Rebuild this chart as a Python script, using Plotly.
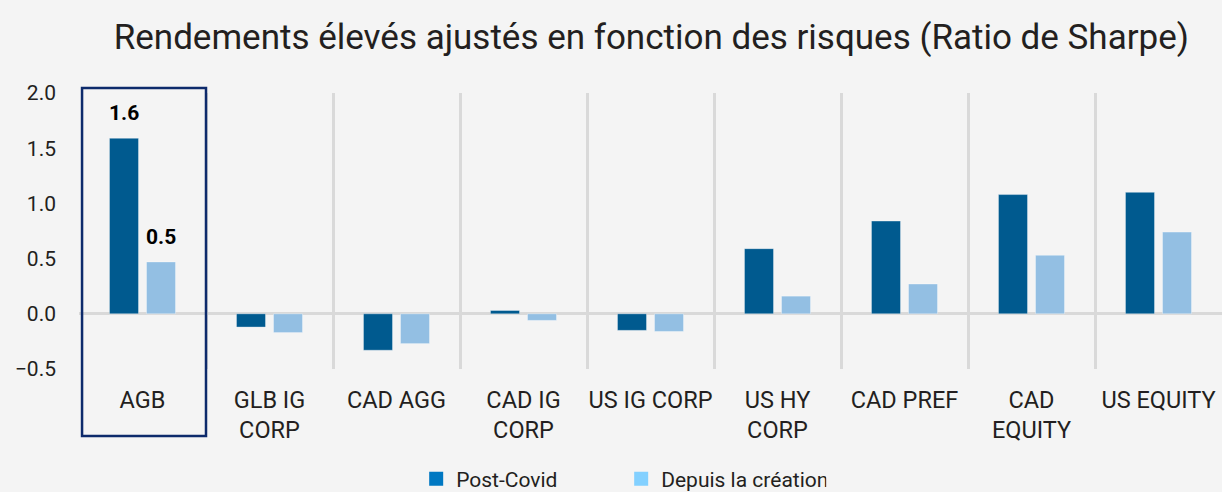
import plotly.graph_objects as go

categories = ["AGB", "GLB IG<br>CORP", "CAD AGG", "CAD IG<br>CORP", "US IG CORP",
              "US HY<br>CORP", "CAD PREF", "CAD<br>EQUITY", "US EQUITY"]
post_covid = [1.59, -0.12, -0.33, 0.03, -0.15, 0.59, 0.84, 1.08, 1.10]
depuis_creation = [0.47, -0.17, -0.27, -0.06, -0.16, 0.16, 0.27, 0.53, 0.74]
ytick_vals = [-0.5, 0.0, 0.5, 1.0, 1.5, 2.0]
series_names = ["Post-Covid", "Depuis la création"]
title_text = "Rendements élevés ajustés en fonction des risques (Ratio de Sharpe)"

BAR_DARK = "#005a8f"
BAR_LIGHT = "#93bfe3"
LEG_DARK = "#0078c2"
LEG_LIGHT = "#82d0ff"
TEXT = "#231f20"
GRID = "#d9d9d9"
BG = "#f4f4f4"
FONT = "Roboto"

fig = go.Figure()
fig.add_trace(go.Bar(x=categories, y=post_covid, name=series_names[0], marker_color=BAR_DARK,
                     marker_line=dict(width=1, color="rgba(255,255,255,0.35)"), showlegend=False))
fig.add_trace(go.Bar(x=categories, y=depuis_creation, name=series_names[1], marker_color=BAR_LIGHT,
                     marker_line=dict(width=1, color="rgba(255,255,255,0.35)"), showlegend=False))
# legend-only entries (legend swatches use brighter colours in the reference)
for nm, col in [(series_names[0], LEG_DARK), (series_names[1], LEG_LIGHT)]:
    fig.add_trace(go.Scatter(x=[None], y=[None], name=nm, mode="markers",
                             marker=dict(symbol="square", size=14, color=col)))

# value labels for the highlighted category
for val, shift in [(post_covid[0], -18.5), (depuis_creation[0], 18.5)]:
    fig.add_annotation(x=categories[0], y=val, text=f"<b>{val:.1f}</b>", showarrow=False,
                       xshift=shift, yshift=25, yanchor="middle",
                       font=dict(family=FONT, size=21, color="#000000"))

# highlight box around first category
fig.add_shape(type="rect", xref="x", yref="paper", x0=-0.476, x1=0.5, y0=-0.243, y1=1.018,
              line=dict(color="#0d2a6b", width=2.5), fillcolor="rgba(0,0,0,0)", layer="above")

fig.update_layout(
    width=1222, height=492,
    paper_bgcolor=BG, plot_bgcolor=BG,
    margin=dict(l=79, r=0, t=93, b=123, autoexpand=False),
    barmode="group", bargap=0.417, bargroupgap=0.216,
    title=dict(text=title_text, x=0.533, xanchor="center", y=1 - 37 / 492, yanchor="middle",
               yref="container", font=dict(family=FONT, size=35, color=TEXT)),
    font=dict(family=FONT, color=TEXT),
    legend=dict(orientation="h", x=0.295, xanchor="left", xref="paper",
                y=1 - 479 / 492, yanchor="middle", yref="container",
                font=dict(family=FONT, size=21, color=TEXT),
                entrywidth=160, entrywidthmode="pixels", itemwidth=30,
                bgcolor="rgba(0,0,0,0)"),
    xaxis=dict(tickson="boundaries", showgrid=True, gridcolor=GRID, gridwidth=2.5,
               showline=False, ticks="", ticklabelstandoff=14, tickangle=0,
               tickfont=dict(family=FONT, size=23.5, color=TEXT)),
    yaxis=dict(range=[-0.5, 2.0], tickvals=ytick_vals, tickformat=".1f", showgrid=False,
               zeroline=True, zerolinecolor=GRID, zerolinewidth=2.5, showline=False,
               ticks="", ticklabelstandoff=22,
               tickfont=dict(family=FONT, size=21, color=TEXT)),
)

fig.write_html("out.html", config={"displayModeBar": False},
               post_script="document.body.style.margin='0';")
